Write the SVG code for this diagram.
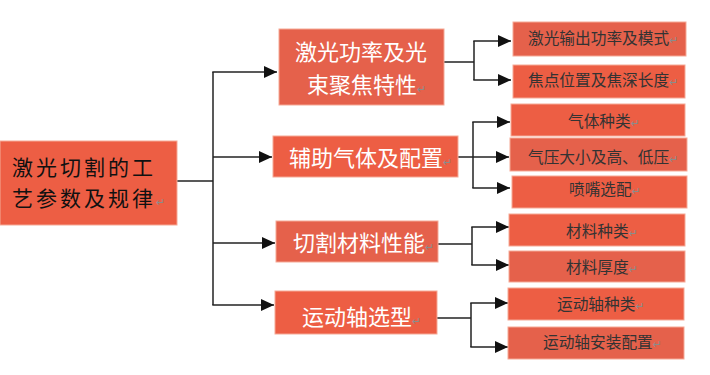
<svg xmlns="http://www.w3.org/2000/svg" width="710" height="375" viewBox="0 0 710 375">
<defs>
<marker id="arr" markerUnits="userSpaceOnUse" markerWidth="13" markerHeight="12" refX="13" refY="6" orient="auto">
<path d="M0,0 L13,6 L0,12 z" fill="#111"/>
</marker>
<style>
.box{fill:#ED5E44;stroke:#F5A996;stroke-width:1}
.boxd{fill:#E5614B;stroke:#F5A996;stroke-width:1}
.t0{font-family:"Noto Sans CJK SC",sans-serif;font-size:21px;letter-spacing:3px;fill:#111}
.t1{font-family:"Noto Sans CJK SC",sans-serif;font-size:22px;fill:#fff}
.t2{font-family:"Noto Sans CJK SC",sans-serif;font-size:15.7px;fill:#333}
.rm{font-family:"DejaVu Sans",sans-serif;font-size:11px;letter-spacing:0;fill:#8c8c8c}
.c{fill:none;stroke:#222;stroke-width:1.5}
.a{fill:none;stroke:#222;stroke-width:1.5;marker-end:url(#arr)}
</style>
</defs>
<rect width="710" height="375" fill="#fff"/>
<g id="connectors">
<path class="c" d="M177,181 H213"/>
<path class="c" d="M213,72 V305"/>
<path class="a" d="M212.3,72 H277"/>
<path class="a" d="M213,157 H272"/>
<path class="a" d="M213,243 H275"/>
<path class="a" d="M212.3,305 H274"/>
<path class="c" d="M444,62 H474"/>
<path class="c" d="M474,41 V80"/>
<path class="a" d="M473.3,41 H511"/>
<path class="a" d="M473.3,80 H511"/>
<path class="c" d="M458,157 H473"/>
<path class="c" d="M473,122 V188"/>
<path class="a" d="M472.3,122 H510"/>
<path class="a" d="M473,157 H509"/>
<path class="a" d="M472.3,188 H510"/>
<path class="c" d="M438,244 H472"/>
<path class="c" d="M472,227 V265"/>
<path class="a" d="M471.3,227 H509"/>
<path class="a" d="M471.3,265 H509"/>
<path class="c" d="M437,318 H471"/>
<path class="c" d="M471,303 V347"/>
<path class="a" d="M470.3,303 H508"/>
<path class="a" d="M470.3,347 H508"/>
</g>
<g id="root">
<rect class="box" x="0" y="141" width="177" height="84"/>
<text class="t0" x="12" y="175">激光切割的工</text>
<text class="t0" x="12" y="206">艺参数及规律<tspan class="rm">↵</tspan></text>
</g>
<g id="n1">
<rect class="boxd" x="279" y="29" width="165" height="76"/>
<text class="t1" x="295" y="60">激光功率及光</text>
<text class="t1" x="307" y="93">束聚焦特性<tspan class="rm">↵</tspan></text>
</g>
<g id="n2">
<rect class="box" x="273" y="136" width="185" height="41"/>
<text class="t1" x="289" y="166">辅助气体及配置<tspan class="rm">↵</tspan></text>
</g>
<g id="n3">
<rect class="boxd" x="276" y="221" width="162" height="41"/>
<text class="t1" x="293" y="251">切割材料性能<tspan class="rm">↵</tspan></text>
</g>
<g id="n4">
<rect class="box" x="275" y="291" width="162" height="43"/>
<text class="t1" x="302" y="325">运动轴选型<tspan class="rm">↵</tspan></text>
</g>
<g id="n1a">
<rect class="boxd" x="513" y="22" width="173" height="34"/>
<text class="t2" x="528" y="44">激光输出功率及模式<tspan class="rm">↵</tspan></text>
</g>
<g id="n1b">
<rect class="box" x="513" y="65" width="172" height="33"/>
<text class="t2" x="528" y="86">焦点位置及焦深长度<tspan class="rm">↵</tspan></text>
</g>
<g id="n2a">
<rect class="box" x="511" y="104" width="174" height="32"/>
<text class="t2" x="568" y="127">气体种类<tspan class="rm">↵</tspan></text>
</g>
<g id="n2b">
<rect class="boxd" x="510" y="138" width="177" height="33"/>
<text class="t2" x="528" y="163">气压大小及高、低压<tspan class="rm">↵</tspan></text>
</g>
<g id="n2c">
<rect class="box" x="512" y="176" width="175" height="32"/>
<text class="t2" x="569" y="195">喷嘴选配<tspan class="rm">↵</tspan></text>
</g>
<g id="n3a">
<rect class="box" x="509" y="214" width="176" height="32"/>
<text class="t2" x="566" y="237">材料种类<tspan class="rm">↵</tspan></text>
</g>
<g id="n3b">
<rect class="boxd" x="509" y="251" width="176" height="31"/>
<text class="t2" x="566" y="273">材料厚度<tspan class="rm">↵</tspan></text>
</g>
<g id="n4a">
<rect class="box" x="508" y="288" width="176" height="32"/>
<text class="t2" x="557" y="310">运动轴种类<tspan class="rm">↵</tspan></text>
</g>
<g id="n4b">
<rect class="boxd" x="508" y="327" width="176" height="32"/>
<text class="t2" x="543" y="348">运动轴安装配置<tspan class="rm">↵</tspan></text>
</g>
</svg>
